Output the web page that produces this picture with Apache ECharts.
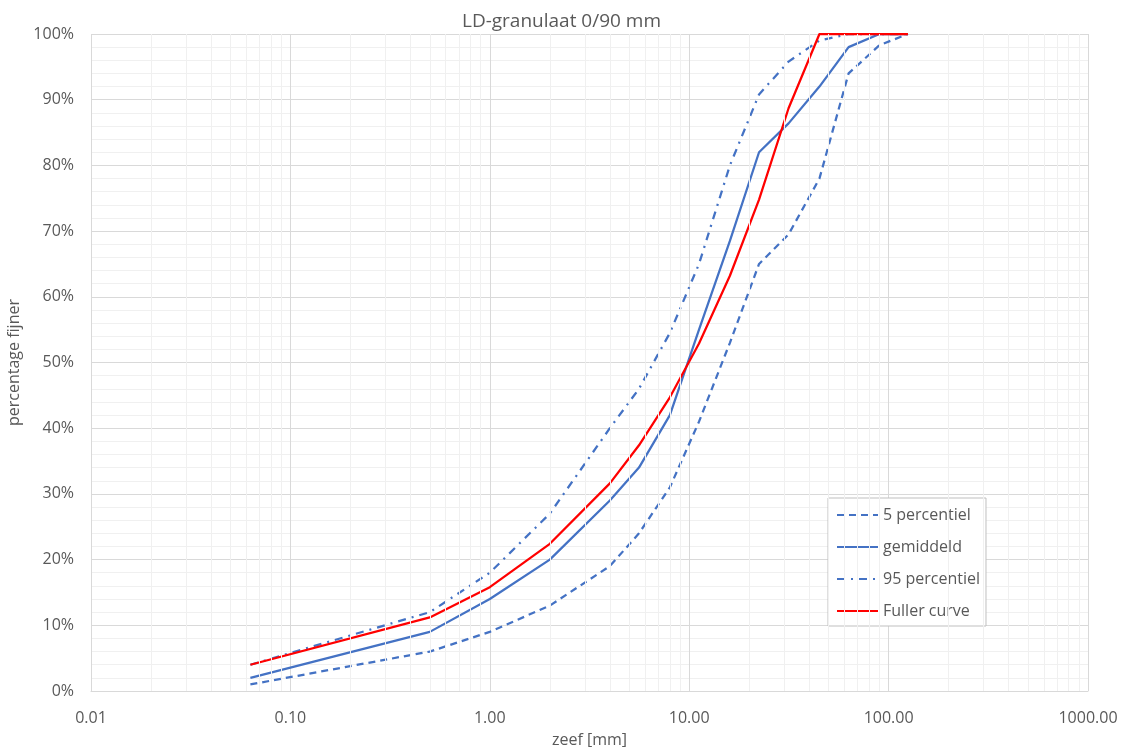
<!DOCTYPE html>
<html>
<head>
<meta charset="utf-8">
<script src="https://cdn.jsdelivr.net/npm/echarts@6/dist/echarts.min.js"></script>
<style>html,body{margin:0;padding:0;background:#fff}#c{width:1123px;height:747px}</style>
</head>
<body>
<div id="c"></div>
<script>
// sieve sizes [mm]
const sieves = [0.063, 0.5, 1, 2, 4, 5.6, 8, 11.2, 16, 22.4, 31.5, 45, 63, 90, 125];
const p5     = [1, 6, 9, 13, 19, 24, 31, 41, 53, 65, 69.5, 78, 94, 98.3, 100];
const mean   = [2, 9, 14, 20, 29, 34, 42, 55, 68.5, 82, 86.4, 92, 98, 100, 100];
const p95    = [4, 12, 18, 27, 40, 46, 54.5, 65, 80, 90.8, 95.8, 99, 100, 100, 100];
const fuller = [4.0, 11.2, 15.8, 22.4, 31.6, 37.4, 44.7, 52.9, 63.2, 74.8, 88.7, 100, 100, 100, 100];
const yTicks = [0, 10, 20, 30, 40, 50, 60, 70, 80, 90, 100];
const minorX = [0.02,0.03,0.04,0.05,0.06,0.07,0.08,0.09,
                0.2,0.3,0.4,0.5,0.6,0.7,0.8,0.9,
                2,3,4,5,6,7,8,9,
                20,30,40,50,60,70,80,90,
                200,300,400,500,600,700,800,900];

const FONT = "'Open Sans', sans-serif";
const TXT = '#595959';
const BLUE = '#4472C4';

const pairs = arr => sieves.map((s, i) => [s, arr[i]]);

const chart = echarts.init(document.getElementById('c'), null, {renderer: 'canvas'});
chart.setOption({
  animation: false,
  textStyle: {fontFamily: FONT},
  title: {
    text: 'LD-granulaat 0/90 mm',
    left: 'center', top: 7,
    textStyle: {fontFamily: FONT, fontSize: 19, fontWeight: 'normal', color: TXT}
  },
  grid: {left: 91, right: 35, top: 34, bottom: 56, containLabel: false, outerBoundsMode: 'none'},
  legend: {
    orient: 'vertical',
    left: 828, top: 498,
    data: ['5 percentiel', 'gemiddeld', '95 percentiel', 'Fuller curve'],
    itemWidth: 41, itemHeight: 16, itemGap: 16,
    padding: [9, 6, 7, 8],
    borderColor: '#bfbfbf', borderWidth: 1, backgroundColor: '#fff',
    itemStyle: {opacity: 0},
    textStyle: {fontFamily: FONT, fontSize: 16, lineHeight: 16, color: TXT}
  },
  xAxis: {
    type: 'log', logBase: 10, min: 0.01, max: 1000,
    name: 'zeef [mm]', nameLocation: 'middle', nameGap: 41,
    nameTextStyle: {fontFamily: FONT, fontSize: 16, color: TXT},
    axisLine: {show: true, lineStyle: {color: '#d9d9d9', width: 1}},
    axisTick: {show: false},
    axisLabel: {margin: 19, fontFamily: FONT, fontSize: 16, color: TXT,
      formatter: v => Number(v).toFixed(2)},
    splitLine: {show: true, lineStyle: {color: '#d9d9d9', width: 1}}
  },
  yAxis: {
    type: 'value', min: 0, max: 100, interval: 10,
    name: 'percentage fijner', nameLocation: 'middle', nameGap: 63, nameRotate: 90,
    nameTextStyle: {fontFamily: FONT, fontSize: 16, color: TXT},
    axisLine: {show: false}, axisTick: {show: false},
    axisLabel: {margin: 17, fontFamily: FONT, fontSize: 16, color: TXT, formatter: '{value}%'},
    splitLine: {show: true, lineStyle: {color: '#d9d9d9', width: 1}},
    minorTick: {show: false, splitNumber: 5},
    minorSplitLine: {show: true, lineStyle: {color: '#f0f0f0', width: 1}}
  },
  series: [
    {
      name: 'minor', type: 'line', data: [], silent: true, z: 1,
      markLine: {
        silent: true, symbol: ['none', 'none'], label: {show: false},
        lineStyle: {color: '#f0f0f0', width: 1, type: 'solid'},
        emphasis: {disabled: true},
        data: minorX.map(v => ({xAxis: v}))
      }
    },
    {name: '5 percentiel', type: 'line', data: pairs(p5), symbol: 'none', z: 3,
     lineStyle: {color: BLUE, width: 2.25, type: [7, 5]}, itemStyle: {color: BLUE}},
    {name: 'gemiddeld', type: 'line', data: pairs(mean), symbol: 'none', z: 3,
     lineStyle: {color: BLUE, width: 2.25, type: 'solid'}, itemStyle: {color: BLUE}},
    {name: '95 percentiel', type: 'line', data: pairs(p95), symbol: 'none', z: 3,
     lineStyle: {color: BLUE, width: 2.25, type: [8, 6, 2, 6]}, itemStyle: {color: BLUE}},
    {name: 'Fuller curve', type: 'line', data: pairs(fuller), symbol: 'none', z: 4,
     lineStyle: {color: '#FF0000', width: 2.25, type: 'solid'}, itemStyle: {color: '#FF0000'}}
  ]
});
</script>
</body>
</html>
